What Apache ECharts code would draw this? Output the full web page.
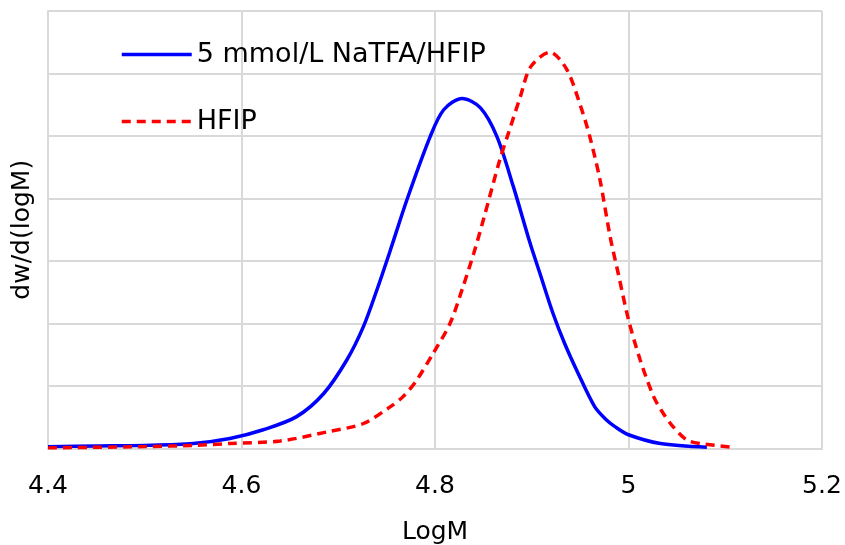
<!DOCTYPE html>
<html>
<head>
<meta charset="utf-8">
<script src="https://cdn.jsdelivr.net/npm/echarts@6/dist/echarts.min.js"></script>
<style>
  html, body { margin: 0; padding: 0; background: #fff; }
  #chart { width: 845px; height: 545px; }
</style>
</head>
<body>
<div id="chart"></div>
<script>
// series names
const seriesNames = ['5 mmol/L NaTFA/HFIP', 'HFIP'];

// [logM, dw/d(logM)]
const naTfaData = [
  [4.40, 0.03], [4.45, 0.04], [4.50, 0.05], [4.55, 0.08], [4.588, 0.16],
  [4.6225, 0.30], [4.657, 0.51], [4.685, 0.88], [4.709, 1.42], [4.726, 1.95],
  [4.74, 2.54], [4.754, 3.18], [4.771, 3.98], [4.795, 4.99], [4.809, 5.42],
  [4.828, 5.60], [4.847, 5.45], [4.864, 4.99], [4.881, 4.19], [4.898, 3.30],
  [4.9085, 2.80], [4.922, 2.16], [4.934, 1.68], [4.948, 1.20], [4.965, 0.67],
  [4.977, 0.46], [4.986, 0.35], [5.00, 0.22], [5.033, 0.08], [5.081, 0.02]
];
const hfipData = [
  [4.40, 0.01], [4.50, 0.03], [4.55, 0.05], [4.588, 0.08], [4.64, 0.12],
  [4.69, 0.27], [4.726, 0.40], [4.754, 0.67], [4.767, 0.83], [4.78, 1.07],
  [4.798, 1.52], [4.8155, 2.00], [4.829, 2.59], [4.84, 3.12], [4.85, 3.66],
  [4.867, 4.62], [4.876, 5.05], [4.888, 5.62], [4.899, 6.11], [4.919, 6.34],
  [4.936, 6.07], [4.95, 5.50], [4.96, 4.99], [4.9705, 4.30], [4.981, 3.39],
  [4.9894, 2.80], [5.00, 2.06], [5.012, 1.42], [5.026, 0.83], [5.036, 0.56],
  [5.046, 0.35], [5.06, 0.14], [5.074, 0.08], [5.108, 0.02]
];

// x ticks 4.4 .. 5.2, step 0.2
const xMin = 4.4, xMax = 5.2, xStep = 0.2;
const yMin = 0, yMax = 7, yStep = 1;

const font = '"DejaVu Sans", Verdana, sans-serif';
const gridColor = '#d9d9d9';

let myChart = echarts.init(document.getElementById('chart'));

let option = {
  animation: false,
  textStyle: { fontFamily: font },
  grid: {
    left: 48, right: 23, top: 11, bottom: 96.5,
    containLabel: false,
    outerBoundsMode: 'none'
  },
  legend: {
    orient: 'vertical',
    left: 115,
    top: 36,
    itemWidth: 70,
    itemHeight: 14,
    itemGap: 40,
    itemStyle: { opacity: 0 },   // hide the dot, keep the line
    lineStyle: { width: 3.5 },
    textStyle: { fontSize: 27, color: '#000', fontFamily: font },
    data: seriesNames
  },
  xAxis: {
    type: 'value',
    min: xMin,
    max: xMax,
    interval: xStep,
    name: 'LogM',
    nameLocation: 'middle',
    nameGap: 71,
    nameTextStyle: { fontSize: 25, color: '#000' },
    axisLine: { show: true, lineStyle: { color: gridColor, width: 2 } },
    axisTick: { show: false },
    axisLabel: {
      fontSize: 25,
      color: '#000',
      margin: 25,
      formatter: function (v) { return String(Math.round(v * 10) / 10); }
    },
    splitLine: { show: true, lineStyle: { color: gridColor, width: 2 } }
  },
  yAxis: {
    type: 'value',
    min: yMin,
    max: yMax,
    interval: yStep,
    name: 'dw/d(logM)',
    nameLocation: 'middle',
    nameGap: 13,
    nameTextStyle: { fontSize: 25, color: '#000' },
    axisLine: { show: true, lineStyle: { color: gridColor, width: 2 } },
    axisTick: { show: false },
    axisLabel: { show: false },
    splitLine: { show: true, lineStyle: { color: gridColor, width: 2 } }
  },
  series: [
    {
      name: seriesNames[0],
      type: 'line',
      smooth: 0.3,
      symbol: 'none',
      data: naTfaData,
      lineStyle: { color: '#0000ff', width: 3.5 },
      itemStyle: { color: '#0000ff' }
    },
    {
      name: seriesNames[1],
      type: 'line',
      smooth: 0.3,
      symbol: 'none',
      data: hfipData,
      lineStyle: { color: '#ff0000', width: 3.5, type: [9, 6] },
      itemStyle: { color: '#ff0000' }
    }
  ]
};
option && myChart.setOption(option);
</script>
</body>
</html>
